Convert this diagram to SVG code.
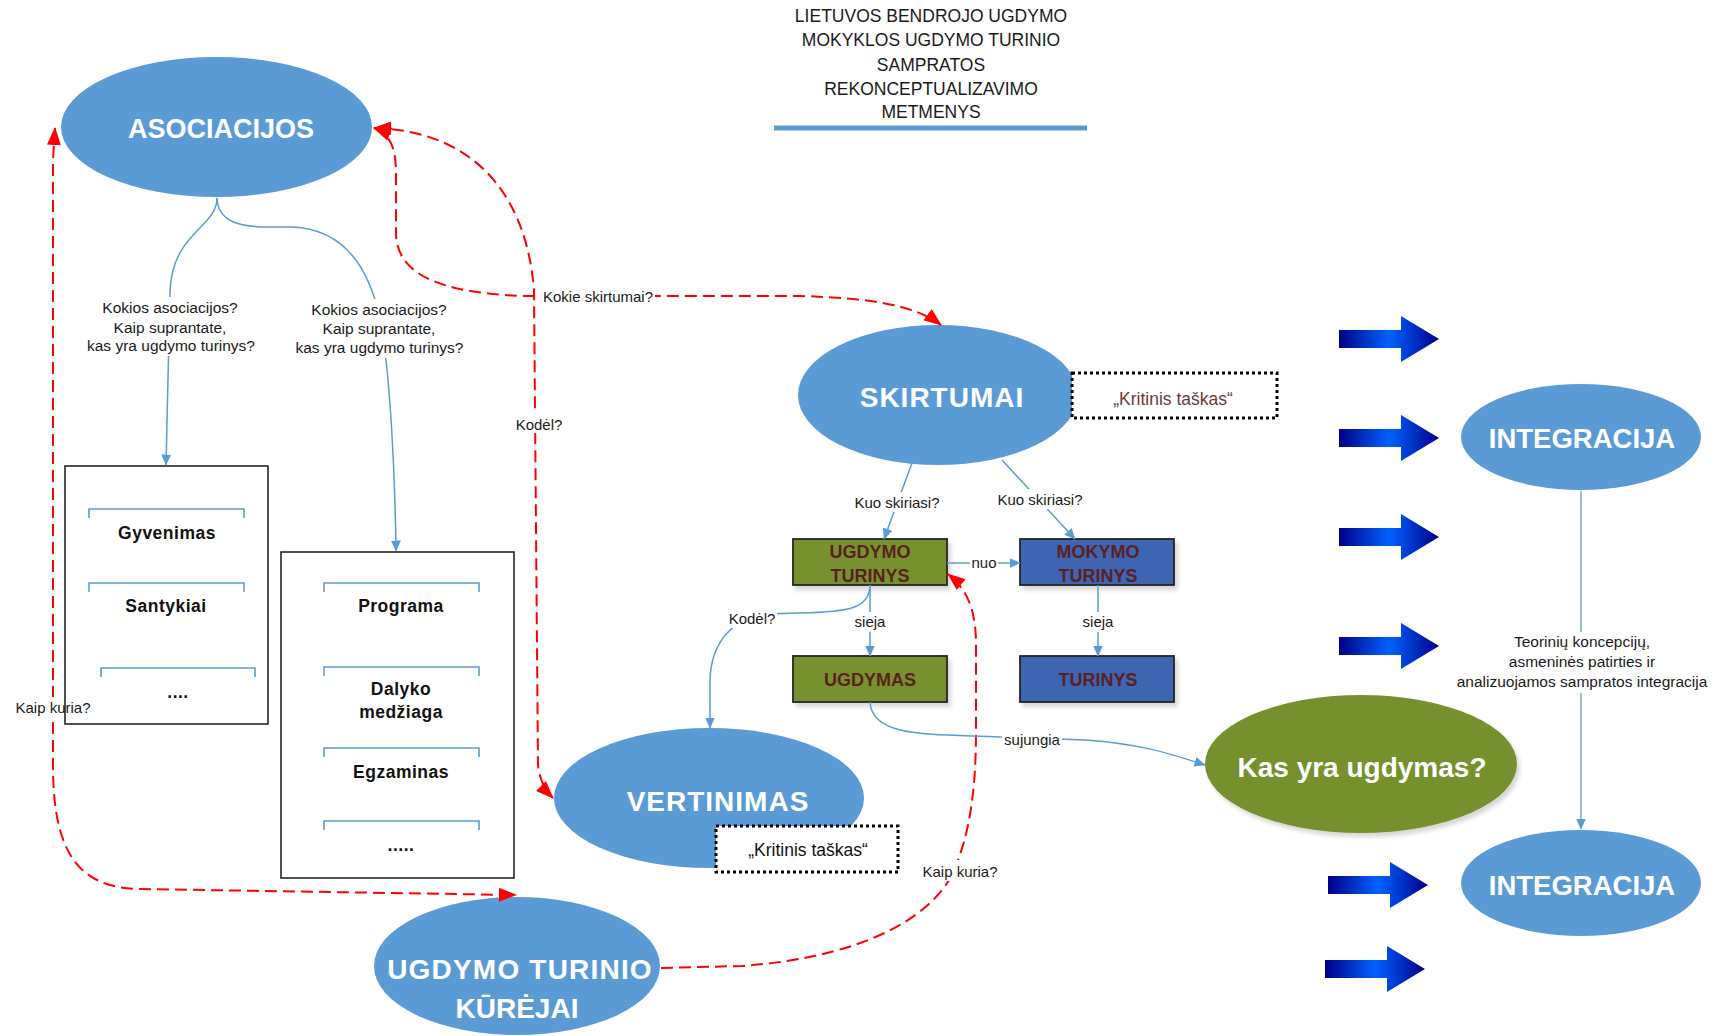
<svg xmlns="http://www.w3.org/2000/svg" width="1731" height="1036" viewBox="0 0 1731 1036">
<style>
.ell{fill:#5B9BD5}
.et{font-family:"Liberation Sans",Arial,sans-serif;font-weight:bold;fill:#fff;text-anchor:middle}
.lbl{font-family:"Liberation Sans",Arial,sans-serif;font-size:15px;fill:#1a1a1a;text-anchor:middle}
.ttl{font-family:"Liberation Sans",Arial,sans-serif;font-size:17.5px;fill:#1a1a1a;text-anchor:middle}
.red{fill:none;stroke:#FF0000;stroke-width:2;stroke-dasharray:12 6}
.blue{fill:none;stroke:#5B9BD5;stroke-width:1.5}
.bg{fill:#fff}
.box{fill:none;stroke:#262626;stroke-width:1.6}
.br{fill:none;stroke:#5B9BD5;stroke-width:1.6}
.bt{font-family:"Liberation Sans",Arial,sans-serif;font-weight:bold;font-size:17.5px;fill:#111;text-anchor:middle;letter-spacing:0.5px}
.rt{font-family:"Liberation Sans",Arial,sans-serif;font-weight:bold;font-size:18px;fill:#5C1F1F;text-anchor:middle}
.crit{fill:#fff;stroke:#000;stroke-width:3;stroke-dasharray:3 3}
.ba{fill:url(#bgrad)}
.green{fill:#77912F;stroke:#262626;stroke-width:1.8}
.navy{fill:#3E65B2;stroke:#262626;stroke-width:1.8}
</style>
<defs>
<linearGradient id="bgrad" x1="0" y1="0" x2="1" y2="0">
<stop offset="0" stop-color="#000088"/>
<stop offset="0.5" stop-color="#0062FF"/>
<stop offset="1" stop-color="#00008A"/>
</linearGradient>
<filter id="sh" x="-10%" y="-10%" width="130%" height="140%">
<feDropShadow dx="3" dy="4" stdDeviation="2" flood-color="#000" flood-opacity="0.16"/>
</filter>
<marker id="ar" viewBox="0 0 18 14" refX="17" refY="7" markerWidth="18" markerHeight="14" markerUnits="userSpaceOnUse" orient="auto-start-reverse">
<path d="M0,0 L18,7 L0,14 z" fill="#FF0000"/>
</marker>
<marker id="ab" viewBox="0 0 11 10" refX="10.5" refY="5" markerWidth="11" markerHeight="10" markerUnits="userSpaceOnUse" orient="auto">
<path d="M0,0 L11,5 L0,10 z" fill="#5B9BD5"/>
</marker>
</defs>

<rect width="1731" height="1036" fill="#fff"/>

<g id="title">
<text class="ttl" x="931" y="22">LIETUVOS BENDROJO UGDYMO</text>
<text class="ttl" x="931" y="46">MOKYKLOS UGDYMO TURINIO</text>
<text class="ttl" x="931" y="70.5">SAMPRATOS</text>
<text class="ttl" x="931" y="94.5">REKONCEPTUALIZAVIMO</text>
<text class="ttl" x="931" y="118">METMENYS</text>
<rect x="774" y="125.5" width="313" height="5" fill="#5B9BD5"/>
</g>

<g id="asociacijos">
<ellipse class="ell" cx="216.5" cy="127" rx="155.5" ry="70"/>
<text class="et" x="221" y="138" font-size="27">ASOCIACIJOS</text>
</g>

<g id="box-gyvenimas">
<rect class="box" x="65" y="466" width="203" height="258"/>
<path class="br" d="M89 518 V509 H244 V518"/>
<text class="bt" x="167" y="539">Gyvenimas</text>
<path class="br" d="M89 592 V583 H244 V592"/>
<text class="bt" x="166" y="612">Santykiai</text>
<path class="br" d="M101 677 V668 H255 V677"/>
<text class="bt" x="178" y="698">....</text>
</g>

<g id="box-programa">
<rect class="box" x="281" y="552" width="233" height="326"/>
<path class="br" d="M324 592 V583 H479 V592"/>
<text class="bt" x="401" y="612">Programa</text>
<path class="br" d="M324 676 V667 H479 V676"/>
<text class="bt" x="401" y="695">Dalyko</text>
<text class="bt" x="401" y="718">medžiaga</text>
<path class="br" d="M324 757 V748 H479 V757"/>
<text class="bt" x="401" y="778">Egzaminas</text>
<path class="br" d="M324 830 V821 H479 V830"/>
<text class="bt" x="401" y="851">.....</text>
</g>

<g id="skirtumai">
<ellipse class="ell" cx="938" cy="395" rx="140" ry="70"/>
<text class="et" x="942" y="407" font-size="28" letter-spacing="1">SKIRTUMAI</text>
<rect class="crit" x="1072" y="373" width="205" height="45"/>
<text class="lbl" x="1173" y="405" style="font-size:17.5px;fill:#6B3A3A">„Kritinis taškas“</text>
</g>

<g id="ugdymo-turinys">
<rect class="green" x="793" y="539" width="154" height="46" filter="url(#sh)"/>
<text class="rt" x="870" y="558">UGDYMO</text>
<text class="rt" x="870" y="582">TURINYS</text>
</g>

<g id="mokymo-turinys">
<rect class="navy" x="1020" y="539" width="154" height="46" filter="url(#sh)"/>
<text class="rt" x="1098" y="558">MOKYMO</text>
<text class="rt" x="1098" y="582">TURINYS</text>
</g>

<g id="ugdymas">
<rect class="green" x="793" y="656" width="154" height="46" filter="url(#sh)"/>
<text class="rt" x="870" y="686">UGDYMAS</text>
</g>

<g id="turinys">
<rect class="navy" x="1020" y="656" width="154" height="46" filter="url(#sh)"/>
<text class="rt" x="1098" y="686">TURINYS</text>
</g>

<g id="vertinimas">
<ellipse class="ell" cx="709" cy="798" rx="155" ry="70"/>
<text class="et" x="718" y="811" font-size="28" letter-spacing="1">VERTINIMAS</text>
<rect class="crit" x="716" y="826" width="182" height="46"/>
<text class="lbl" x="808" y="856" style="font-size:17.5px;fill:#111">„Kritinis taškas“</text>
</g>

<g id="kurejai">
<ellipse class="ell" cx="517" cy="966" rx="143" ry="69"/>
<text class="et" x="520" y="979" font-size="28" letter-spacing="1.2">UGDYMO TURINIO</text>
<text class="et" x="517" y="1018" font-size="28">KŪRĖJAI</text>
</g>

<g id="kas-yra-ugdymas">
<ellipse cx="1361" cy="764" rx="156" ry="69" fill="#76902E" filter="url(#sh)"/>
<text class="et" x="1362" y="777" font-size="28">Kas yra ugdymas?</text>
</g>

<g id="integracija-1">
<ellipse class="ell" cx="1581" cy="437" rx="120" ry="53"/>
<text class="et" x="1582" y="448" font-size="27.5">INTEGRACIJA</text>
</g>

<g id="integracija-2">
<ellipse class="ell" cx="1581" cy="883" rx="120" ry="53"/>
<text class="et" x="1582" y="895" font-size="27.5">INTEGRACIJA</text>
</g>

<g id="arrow-1"><polygon class="ba" points="1339,330 1401,330 1401,316 1439,339 1401,362 1401,348 1339,348"/></g>
<g id="arrow-2"><polygon class="ba" points="1339,429 1401,429 1401,415 1439,438 1401,461 1401,447 1339,447"/></g>
<g id="arrow-3"><polygon class="ba" points="1339,528 1401,528 1401,514 1439,537 1401,560 1401,546 1339,546"/></g>
<g id="arrow-4"><polygon class="ba" points="1339,637 1401,637 1401,623 1439,646 1401,669 1401,655 1339,655"/></g>
<g id="arrow-5"><polygon class="ba" points="1328,876 1390,876 1390,862 1428,885 1390,908 1390,894 1328,894"/></g>
<g id="arrow-6"><polygon class="ba" points="1325,960 1387,960 1387,946 1425,969 1387,992 1387,978 1325,978"/></g>

<g id="connectors">
<path class="blue" d="M217 198 C217 228 172 232 170 292 L166 465" marker-end="url(#ab)"/>
<path class="blue" d="M217 198 C218 222 240 227 268 227 L292 227 C345 229 372 270 382 330 C390 380 395 470 396 551" marker-end="url(#ab)"/>
<rect class="bg" x="84" y="297" width="174" height="59"/>
<text class="lbl" x="170" y="313" style="font-size:15.5px">Kokios asociacijos?</text>
<text class="lbl" x="170" y="333" style="font-size:15.5px">Kaip suprantate,</text>
<text class="lbl" x="171" y="351" style="font-size:15.5px">kas yra ugdymo turinys?</text>
<rect class="bg" x="293" y="299" width="173" height="59"/>
<text class="lbl" x="379" y="315" style="font-size:15.5px">Kokios asociacijos?</text>
<text class="lbl" x="379" y="334" style="font-size:15.5px">Kaip suprantate,</text>
<text class="lbl" x="379.5" y="353" style="font-size:15.5px">kas yra ugdymo turinys?</text>

<path class="red" d="M55 128 L53 160 L53 770 C54 855 80 888 140 889 L516 895" marker-start="url(#ar)" marker-end="url(#ar)"/>
<rect class="bg" x="12" y="697" width="52" height="20"/>
<text class="lbl" x="53" y="713">Kaip kuria?</text>

<path class="red" d="M374 128 C392 135 396 150 396 175 L396 235 C398 275 440 292 520 296 L800 296 C870 298 915 305 941 325" marker-start="url(#ar)" marker-end="url(#ar)"/>
<path class="red" d="M374 128 C460 130 525 180 534 290 L538 765 Q540 785 553 798" marker-start="url(#ar)" marker-end="url(#ar)"/>
<rect class="bg" x="541" y="286" width="114" height="20"/>
<text class="lbl" x="598" y="302">Kokie skirtumai?</text>
<rect class="bg" x="515" y="412" width="48" height="21"/>
<text class="lbl" x="539" y="430">Kodėl?</text>

<path class="red" d="M661 968 L742 966 C850 958 925 925 952 875 C970 835 976 790 976 730 L976 640 C975 610 968 590 948 574" marker-end="url(#ar)"/>
<rect class="bg" x="921" y="860" width="78" height="21"/>
<text class="lbl" x="960" y="877">Kaip kuria?</text>

<path class="blue" d="M912 463 L884 539" marker-end="url(#ab)"/>
<rect class="bg" x="853" y="492" width="88" height="20"/>
<text class="lbl" x="897" y="508">Kuo skiriasi?</text>
<path class="blue" d="M1002 460 L1075 539" marker-end="url(#ab)"/>
<rect class="bg" x="996" y="489" width="88" height="20"/>
<text class="lbl" x="1040" y="505">Kuo skiriasi?</text>
<path class="blue" d="M947 563 L1020 563" marker-end="url(#ab)"/>
<rect class="bg" x="970" y="554" width="28" height="18"/>
<text class="lbl" x="984" y="568">nuo</text>
<path class="blue" d="M870 585 L870 656" marker-end="url(#ab)"/>
<rect class="bg" x="852" y="612" width="36" height="20"/>
<text class="lbl" x="870" y="627">sieja</text>
<path class="blue" d="M1098 585 L1098 656" marker-end="url(#ab)"/>
<rect class="bg" x="1080" y="612" width="36" height="20"/>
<text class="lbl" x="1098" y="627">sieja</text>
<path class="blue" d="M870 585 C870 608 850 612 800 613 L760 614 C735 620 711 640 710 680 L710 728" marker-end="url(#ab)"/>
<rect class="bg" x="728" y="607" width="49" height="21"/>
<text class="lbl" x="752" y="624">Kodėl?</text>
<path class="blue" d="M870 702 C872 738 930 734 1000 737 L1085 740 C1140 744 1165 752 1205 765" marker-end="url(#ab)"/>
<rect class="bg" x="1002" y="731" width="60" height="19"/>
<text class="lbl" x="1032" y="745">sujungia</text>

<path d="M1581 491 L1581 829" fill="none" stroke="#8EB4E3" stroke-width="1.8" marker-end="url(#ab)"/>
<rect class="bg" x="1452" y="632" width="260" height="61"/>
<text class="lbl" x="1582" y="647" style="font-size:15.5px">Teorinių koncepcijų,</text>
<text class="lbl" x="1582" y="667" style="font-size:15.5px">asmeninės patirties ir</text>
<text class="lbl" x="1582" y="687" style="font-size:15.5px">analizuojamos sampratos integracija</text>
</g>
</svg>
